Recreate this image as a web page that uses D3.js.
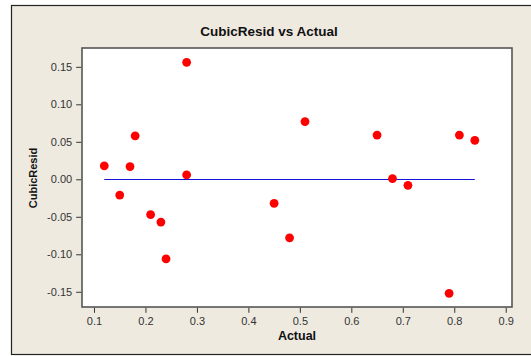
<!DOCTYPE html>
<html>
<head>
<meta charset="utf-8">
<script src="https://cdn.jsdelivr.net/npm/d3@7"></script>
<style>
  html, body { margin: 0; padding: 0; background: #ffffff; }
  svg { display: block; }
  text { font-family: "Liberation Sans", Arial, sans-serif; }
</style>
</head>
<body>
<svg id="chart" width="531" height="356"></svg>
<script>
// Residuals from the cubic fit against the actual values
const actual = [0.12, 0.15, 0.17, 0.18, 0.21, 0.23, 0.24, 0.28, 0.28, 0.45, 0.48, 0.51, 0.65, 0.68, 0.71, 0.79, 0.81, 0.84];
const cubicResid = [0.018, -0.021, 0.017, 0.058, -0.047, -0.057, -0.106, 0.006, 0.156, -0.032, -0.078, 0.077, 0.059, 0.001, -0.008, -0.152, 0.059, 0.052];
const xTicks = [0.1, 0.2, 0.3, 0.4, 0.5, 0.6, 0.7, 0.8, 0.9];
const yTicks = [-0.15, -0.10, -0.05, 0.00, 0.05, 0.10, 0.15];
const refLevel = [0];

const svg = d3.select("#chart");
const W = 531;

// Panel background and frame
svg.append("rect").attr("x", 11.5).attr("y", 5.5).attr("width", W + 10).attr("height", 349)
  .attr("fill", "#eeeae0").attr("stroke", "#222").attr("stroke-width", 1.2);

const plot = { left: 82, top: 48, right: 512, bottom: 307 };

const x = d3.scaleLinear().domain([0.0767, 0.9122]).range([plot.left, plot.right]);
const y = d3.scaleLinear().domain([-0.1703, 0.1751]).range([plot.bottom, plot.top]);

// Data region
svg.append("rect").attr("x", plot.left).attr("y", plot.top)
  .attr("width", plot.right - plot.left).attr("height", plot.bottom - plot.top)
  .attr("fill", "#ffffff");

// Reference line at zero across the data range
const [xmin, xmax] = d3.extent(actual);
svg.selectAll("line.ref").data(refLevel).join("line").attr("class", "ref")
  .attr("x1", x(xmin)).attr("x2", x(xmax))
  .attr("y1", d => Math.round(y(d)) + 0.5).attr("y2", d => Math.round(y(d)) + 0.5)
  .attr("stroke", "#1414d8").attr("stroke-width", 1.2);

// Points
svg.selectAll("circle.pt").data(actual.map((a, i) => [a, cubicResid[i]])).join("circle")
  .attr("class", "pt")
  .attr("cx", d => x(d[0])).attr("cy", d => y(d[1])).attr("r", 4.4)
  .attr("fill", "#ff0000");

// Plot border
svg.append("rect").attr("x", plot.left).attr("y", plot.top)
  .attr("width", plot.right - plot.left).attr("height", plot.bottom - plot.top)
  .attr("fill", "none").attr("stroke", "#555").attr("stroke-width", 1.6);

// Axes (plain hyphen for negatives)
const fmt2 = d => d3.format(".2f")(d).replace("\u2212", "-");
const xAxis = d3.axisBottom(x).tickValues(xTicks).tickFormat(d3.format(".1f")).tickSize(5).tickSizeOuter(0);
const yAxis = d3.axisLeft(y).tickValues(yTicks).tickFormat(fmt2).tickSize(5).tickSizeOuter(0);

const gx = svg.append("g").attr("transform", `translate(0,${plot.bottom + 0.8})`).call(xAxis);
const gy = svg.append("g").attr("transform", `translate(${plot.left - 0.8},0)`).call(yAxis);
[gx, gy].forEach(g => {
  g.select(".domain").remove();
  g.selectAll(".tick line").attr("stroke", "#333");
  g.selectAll(".tick text").attr("fill", "#333").style("font-size", "11px")
    .style("font-family", "'Liberation Sans', Arial, sans-serif");
});
gx.selectAll(".tick text").attr("dy", "0.71em").attr("y", 9);
gy.selectAll(".tick text").attr("x", -9);

// Titles
svg.append("text").attr("x", 269).attr("y", 36).attr("text-anchor", "middle")
  .style("font-size", "13.5px").style("font-weight", "bold").attr("fill", "#111")
  .text("CubicResid vs Actual");
svg.append("text").attr("x", 297).attr("y", 340).attr("text-anchor", "middle")
  .style("font-size", "12.5px").style("font-weight", "bold").attr("fill", "#111")
  .text("Actual");
svg.append("text").attr("transform", "translate(37,178) rotate(-90)").attr("text-anchor", "middle")
  .style("font-size", "11px").style("font-weight", "bold").attr("fill", "#111")
  .text("CubicResid");
</script>
</body>
</html>
